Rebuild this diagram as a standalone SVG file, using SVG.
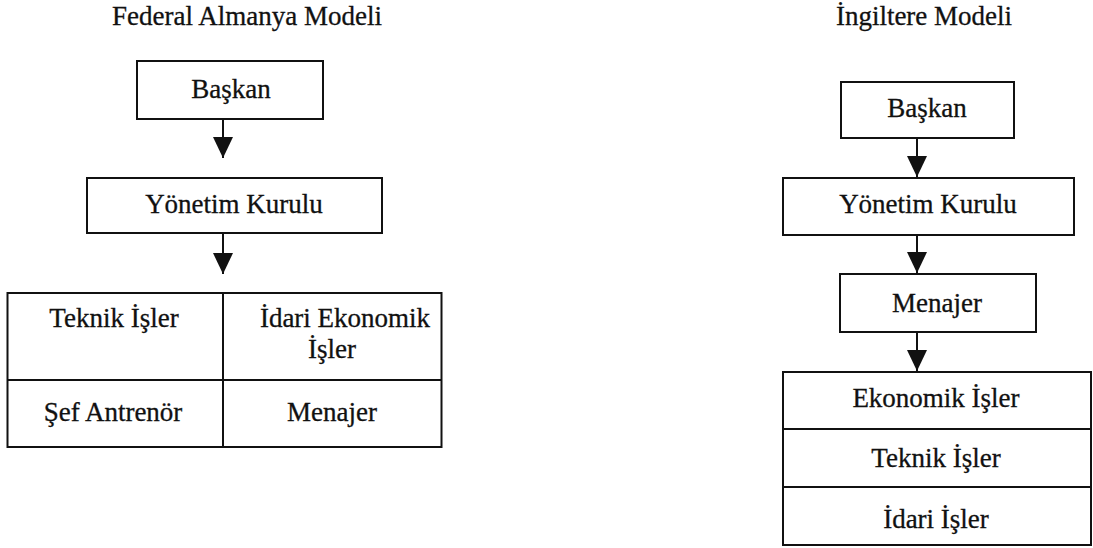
<svg xmlns="http://www.w3.org/2000/svg" width="1093" height="548" viewBox="0 0 1093 548">
  <style>
    .box { fill: #ffffff; stroke: #111111; stroke-width: 2; }
    .div { stroke: #111111; stroke-width: 2; fill: none; }
    .t { font-family: "Liberation Serif", "Times New Roman", serif; font-size: 27px; fill: #111111; stroke: #111111; stroke-width: 0.3; text-anchor: middle; }
    .conn line { stroke: #111111; stroke-width: 2; }
  </style>
  <defs>
    <marker id="head" markerUnits="userSpaceOnUse" markerWidth="22" markerHeight="22" refX="21" refY="10" orient="auto">
      <path d="M0,0 L21,10 L0,20 Z" fill="#111111"/>
    </marker>
  </defs>
  <rect width="1093" height="548" fill="#ffffff"/>

  <!-- Left chart: Federal Almanya Modeli -->
  <text class="t" x="247" y="25">Federal Almanya Modeli</text>

  <g id="de-baskan">
    <rect class="box" x="137" y="61" width="186" height="58"/>
    <text class="t" x="231" y="98">Başkan</text>
  </g>
  <g id="de-yonetim">
    <rect class="box" x="87" y="178" width="295" height="55"/>
    <text class="t" x="234" y="213">Yönetim Kurulu</text>
  </g>
  <g id="de-tablo">
    <rect class="box" x="7.5" y="293" width="434" height="154"/>
    <line class="div" x1="223" y1="293" x2="223" y2="447"/>
    <line class="div" x1="7.5" y1="380" x2="441.5" y2="380"/>
  </g>
  <g id="de-teknik">
    <text class="t" x="114" y="327">Teknik İşler</text>
  </g>
  <g id="de-idari">
    <text class="t" x="345" y="327">İdari Ekonomik</text>
    <text class="t" x="332" y="358">İşler</text>
  </g>
  <g id="de-sef">
    <text class="t" x="113" y="421">Şef Antrenör</text>
  </g>
  <g id="de-menajer">
    <text class="t" x="332" y="421">Menajer</text>
  </g>

  <!-- Right chart: İngiltere Modeli -->
  <text class="t" x="924" y="25">İngiltere Modeli</text>

  <g id="en-baskan">
    <rect class="box" x="841" y="82" width="173" height="56"/>
    <text class="t" x="927" y="117">Başkan</text>
  </g>
  <g id="en-yonetim">
    <rect class="box" x="783" y="178" width="291" height="57"/>
    <text class="t" x="928" y="213">Yönetim Kurulu</text>
  </g>
  <g id="en-menajer">
    <rect class="box" x="840" y="274" width="196" height="58"/>
    <text class="t" x="937" y="312">Menajer</text>
  </g>
  <g id="en-isler">
    <rect class="box" x="783" y="372" width="308" height="173"/>
    <line class="div" x1="783" y1="429" x2="1091" y2="429"/>
    <line class="div" x1="783" y1="487" x2="1091" y2="487"/>
    <text class="t" x="936" y="407">Ekonomik İşler</text>
    <text class="t" x="936" y="467">Teknik İşler</text>
    <text class="t" x="936" y="528">İdari İşler</text>
  </g>

  <!-- Connectors -->
  <g class="conn">
    <line x1="223" y1="119" x2="223" y2="158" marker-end="url(#head)"/>
    <line x1="223" y1="233" x2="223" y2="274" marker-end="url(#head)"/>
    <line x1="917" y1="138" x2="917" y2="177" marker-end="url(#head)"/>
    <line x1="917" y1="235" x2="917" y2="273" marker-end="url(#head)"/>
    <line x1="917" y1="332" x2="917" y2="371" marker-end="url(#head)"/>
  </g>
</svg>
